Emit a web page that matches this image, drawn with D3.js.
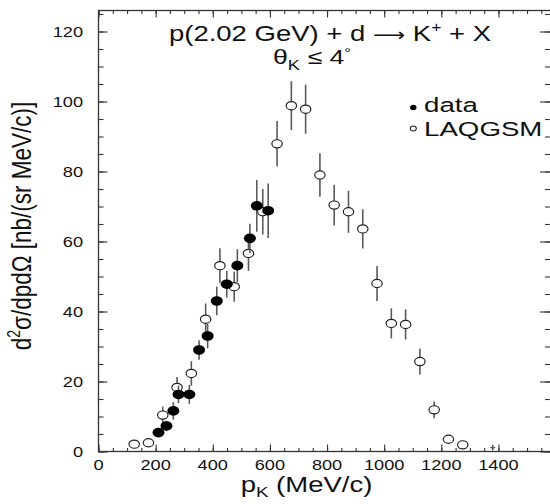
<!DOCTYPE html>
<html>
<head>
<meta charset="utf-8">
<script src="https://cdn.jsdelivr.net/npm/d3@7"></script>
<style>
  body { margin: 0; background: #fff; }
  text { font-family: "Liberation Sans", Arial, Helvetica, sans-serif; fill: #111; }
</style>
</head>
<body>
<svg id="chart" width="550" height="504"></svg>
<script>
// Measured K+ spectrum (filled points)
const dataMomentum = [210, 238, 262, 280, 318, 352, 382, 414, 449, 486, 530, 554, 594];
const dataXsec     = [5.4, 7.3, 11.6, 16.3, 16.3, 29.0, 33.0, 43.0, 47.8, 53.1, 60.9, 70.2, 68.8];
const dataErr      = [1.0, 1.5, 2.5, 2.5, 2.7, 2.8, 3.5, 4.1, 3.8, 4.7, 4.2, 7.4, 7.8];

// LAQGSM model calculation (open points)
const laqMomentum = [125, 175, 225, 275, 325, 375, 425, 475, 525, 575, 625, 675,
                     725, 775, 825, 875, 925, 975, 1025, 1075, 1125, 1175, 1225, 1275];
const laqXsec     = [2.1, 2.5, 10.4, 18.3, 22.3, 37.8, 53.1, 47.1, 56.6, 68.5, 87.9, 98.8,
                     97.8, 79.0, 70.4, 68.5, 63.6, 48.0, 36.6, 36.3, 25.7, 11.9, 3.5, 1.9];
const laqErr      = [0.8, 0.8, 2.4, 3.0, 3.5, 4.5, 5.0, 4.3, 5.0, 6.5, 6.5, 7.0,
                     7.0, 6.2, 5.8, 6.0, 5.6, 5.0, 4.3, 4.3, 3.7, 2.4, 1.0, 0.8];
// tail bin with an almost vanishing model value
const laqTailMomentum = [1380];
const laqTailXsec     = [1.1];
const laqTailErr      = [0.8];

// Axis ticks and labels
const xMajorTicks = [0, 200, 400, 600, 800, 1000, 1200, 1400, 1600];
const xMinorTicks = d3.range(0, 1601, 50);
const xTickLabels = ["0", "200", "400", "600", "800", "1000", "1200", "1400"];
const yMajorTicks = [0, 20, 40, 60, 80, 100, 120];
const yMinorTicks = d3.range(0, 126, 5);
const yTickLabels = ["0", "20", "40", "60", "80", "100", "120"];

const SX = 1.3;      // horizontal stretch of the tick lettering
const SX_BIG = 1.25; // horizontal stretch of titles

const svg = d3.select("#chart");
const x = d3.scaleLinear().domain([0, 1600]).range([98.5, 555.6]);
const y = d3.scaleLinear().domain([0, 126]).range([451.5, 10.5]);

const frameColor = "#333";

// Frame
svg.append("rect")
  .attr("x", x(0)).attr("y", y(126))
  .attr("width", x(1600) - x(0)).attr("height", y(0) - y(126))
  .attr("fill", "none").attr("stroke", frameColor).attr("stroke-width", 1.3);

// Inward ticks on all four sides
function ticks(axisGen, values, size, transform) {
  const g = svg.append("g").attr("transform", transform)
    .call(axisGen.tickValues(values).tickSize(size).tickFormat(""));
  g.select(".domain").remove();
  g.selectAll(".tick line").attr("stroke", frameColor).attr("stroke-width", 1.1);
  return g;
}
ticks(d3.axisBottom(x), xMinorTicks, -3.5, `translate(0,${y(0)})`);
ticks(d3.axisBottom(x), xMajorTicks, -7, `translate(0,${y(0)})`);
ticks(d3.axisTop(x), xMinorTicks, -3.5, `translate(0,${y(126)})`);
ticks(d3.axisTop(x), xMajorTicks, -7, `translate(0,${y(126)})`);
ticks(d3.axisLeft(y), yMinorTicks, -5, `translate(${x(0)},0)`);
ticks(d3.axisLeft(y), yMajorTicks, -9, `translate(${x(0)},0)`);
ticks(d3.axisRight(y), yMinorTicks, -10.5, `translate(${x(1600)},0)`);
ticks(d3.axisRight(y), yMajorTicks, -15.5, `translate(${x(1600)},0)`);

// Stretched text helper
function stext(px, py, anchor, size, sx) {
  return svg.append("text")
    .attr("transform", `translate(${px},${py}) scale(${sx},1)`)
    .attr("text-anchor", anchor)
    .attr("font-size", size);
}

// Tick labels
xTickLabels.forEach((t, i) => {
  stext(x(xMajorTicks[i]), 470, "middle", 14, SX).text(t);
});
yTickLabels.forEach((t, i) => {
  stext(83, y(yMajorTicks[i]) + 5, "end", 14, SX).text(t);
});

// Axis titles
const xt = stext(306.5, 492, "middle", 22, SX_BIG);
xt.append("tspan").text("p");
xt.append("tspan").attr("dy", 5).attr("font-size", 15).text("K");
xt.append("tspan").attr("dy", -5).text(" (MeV/c)");

const yt = svg.append("text")
  .attr("transform", "translate(31,226) rotate(-90) scale(1,1.25)")
  .attr("text-anchor", "middle").attr("font-size", 22.5);
yt.append("tspan").text("d");
yt.append("tspan").attr("dy", -9).attr("font-size", 14).text("2");
yt.append("tspan").attr("dy", 9).text("σ/dpdΩ [nb/(sr MeV/c)]");

// Reaction and angular cut
const t1 = stext(330, 40.8, "middle", 22, SX_BIG);
t1.append("tspan").text("p(2.02 GeV) + d ");
t1.append("tspan").attr("font-family", "DejaVu Sans").attr("font-size", 18).text("\u27F6");
t1.append("tspan").text(" K");
t1.append("tspan").attr("dy", -8.5).attr("font-size", 14).text("+");
t1.append("tspan").attr("dy", 8.5).text(" + X");

const t2 = stext(312, 64, "middle", 20.5, SX_BIG + 0.05);
t2.append("tspan").text("θ");
t2.append("tspan").attr("dy", 5.5).attr("font-size", 14).text("K");
t2.append("tspan").attr("dy", -5.5).text(" ≤ 4");
t2.append("tspan").attr("dy", -7).attr("font-size", 13).text("°");

// Error bars + markers
const barColor = "#5a5a5a";
function errorBars(xs, ys, es) {
  svg.append("g").selectAll("line").data(xs).join("line")
    .attr("x1", d => x(d)).attr("x2", d => x(d))
    .attr("y1", (d, i) => y(ys[i] - es[i]))
    .attr("y2", (d, i) => y(ys[i] + es[i]))
    .attr("stroke", barColor).attr("stroke-width", 1.6);
}

// LAQGSM
errorBars(laqMomentum, laqXsec, laqErr);
svg.append("g").selectAll("ellipse").data(laqMomentum).join("ellipse")
  .attr("cx", d => x(d)).attr("cy", (d, i) => y(laqXsec[i]))
  .attr("rx", 5.2).attr("ry", 4.1)
  .attr("fill", "#fff").attr("stroke", "#222").attr("stroke-width", 1.2);

errorBars(laqTailMomentum, laqTailXsec, laqTailErr);
svg.append("g").selectAll("line").data(laqTailMomentum).join("line")
  .attr("x1", d => x(d) - 2.5).attr("x2", d => x(d) + 2.5)
  .attr("y1", (d, i) => y(laqTailXsec[i])).attr("y2", (d, i) => y(laqTailXsec[i]))
  .attr("stroke", barColor).attr("stroke-width", 1.3);

// Data
errorBars(dataMomentum, dataXsec, dataErr);
svg.append("g").selectAll("ellipse").data(dataMomentum).join("ellipse")
  .attr("cx", d => x(d)).attr("cy", (d, i) => y(dataXsec[i]))
  .attr("rx", 6).attr("ry", 4.8)
  .attr("fill", "#000");

// Legend
svg.append("ellipse").attr("cx", 413.3).attr("cy", 107.5).attr("rx", 3.2).attr("ry", 2.7).attr("fill", "#000");
svg.append("ellipse").attr("cx", 413.3).attr("cy", 128.5).attr("rx", 3).attr("ry", 2.5)
  .attr("fill", "#fff").attr("stroke", "#222").attr("stroke-width", 1.1);
stext(424, 112, "start", 19.5, 1.42).text("data");
stext(424, 135.5, "start", 19.5, 1.42).text("LAQGSM");
</script>
</body>
</html>
